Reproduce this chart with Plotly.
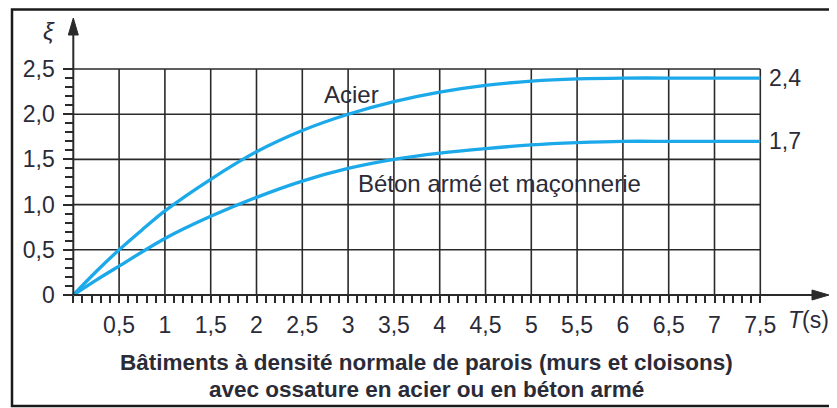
import plotly.graph_objects as go

# ---------------- data ----------------
T_acier = [0, 0.25, 0.5, 0.75, 1, 1.5, 2, 2.5, 3, 3.5, 4, 4.5, 5, 5.5, 6, 6.5, 7, 7.5]
xi_acier = [0, 0.26, 0.50, 0.72, 0.93, 1.28, 1.585, 1.82, 2.00, 2.14, 2.245, 2.32, 2.365, 2.39, 2.40, 2.40, 2.40, 2.40]

T_beton = [0, 0.25, 0.5, 1, 1.5, 2, 2.5, 3, 3.5, 4, 4.5, 5, 5.5, 6, 6.5, 7, 7.5]
xi_beton = [0, 0.165, 0.32, 0.625, 0.87, 1.08, 1.26, 1.40, 1.50, 1.57, 1.62, 1.66, 1.685, 1.70, 1.70, 1.70, 1.70]

x_ticks = [0.5, 1, 1.5, 2, 2.5, 3, 3.5, 4, 4.5, 5, 5.5, 6, 6.5, 7, 7.5]
x_ticklabels = ["0,5", "1", "1,5", "2", "2,5", "3", "3,5", "4", "4,5", "5", "5,5", "6", "6,5", "7", "7,5"]
y_ticks = [0, 0.5, 1.0, 1.5, 2.0, 2.5]
y_ticklabels = ["0", "0,5", "1,0", "1,5", "2,0", "2,5"]
x_minor = [round(i * 0.1, 1) for i in range(0, 76) if i % 5 != 0] + [0]
y_minor = [round(i * 0.1, 1) for i in range(0, 26) if i % 5 != 0]

end_labels = ["2,4", "1,7"]
end_values = [2.4, 1.7]
label_acier = "Acier"
label_beton = "Béton armé et maçonnerie"
caption = ["Bâtiments à densité normale de parois (murs et cloisons)",
           "avec ossature en acier ou en béton armé"]

# ---------------- geometry ----------------
OFF = 8                      # page body margin
W, H = 837 - OFF, 408 - OFF
L, R, TM, B = 12, 2, 2, 55
SX, X0 = 91.6, 73.3 - OFF    # px per unit, pixel of T=0
SY, Y0 = 90.4, 295.0 - OFF   # px per unit, pixel of xi=0
xmin = -(X0 - L) / SX
xmax = xmin + (W - L - R) / SX
ymax = (Y0 - TM) / SY
ymin = -(H - B - Y0) / SY

def pxx(px):
    return (px - OFF - L) / (W - L - R)

def pxy(py):
    return (H - B - (py - OFF)) / (H - TM - B)

def dx(px):
    return (px - OFF - X0) / SX

def dy(py):
    return (Y0 - (py - OFF)) / SY

x_tip = dx(829)
y_tip = dy(18)

DARK = "#2a2a2a"
TXT = "#2b2b38"
BLUE = "#1ba9ea"
FONT = "Liberation Sans, Arial, sans-serif"

fig = go.Figure()

fig.add_trace(go.Scatter(x=T_acier, y=xi_acier, mode="lines", line=dict(color=BLUE, width=3.3, shape="spline", smoothing=0.8),
                         hoverinfo="skip", showlegend=False))
fig.add_trace(go.Scatter(x=T_beton, y=xi_beton, mode="lines", line=dict(color=BLUE, width=3.3, shape="spline", smoothing=0.8),
                         hoverinfo="skip", showlegend=False))

shapes = []
# grid
for xv in x_ticks:
    shapes.append(dict(type="line", xref="x", yref="y", x0=xv, x1=xv, y0=0, y1=max(y_ticks),
                       line=dict(color=DARK, width=1.6), layer="below"))
for yv in y_ticks[1:]:
    shapes.append(dict(type="line", xref="x", yref="y", x0=0, x1=max(x_ticks), y0=yv, y1=yv,
                       line=dict(color=DARK, width=1.6), layer="below"))
# axes
shapes.append(dict(type="line", xref="x", yref="y", x0=0, x1=x_tip - 0.05, y0=0, y1=0, line=dict(color=DARK, width=2)))
shapes.append(dict(type="line", xref="x", yref="y", x0=0, x1=0, y0=0, y1=y_tip - 0.05, line=dict(color=DARK, width=2)))
# arrow heads
shapes.append(dict(type="path", xref="x", yref="y", xsizemode="pixel", ysizemode="pixel",
                   xanchor=x_tip, yanchor=0, path="M0,0 L-17,5 L-17,-5 Z",
                   fillcolor=DARK, line=dict(color=DARK, width=1)))
shapes.append(dict(type="path", xref="x", yref="y", xsizemode="pixel", ysizemode="pixel",
                   xanchor=0, yanchor=y_tip, path="M0,0 L-5,-17 L5,-17 Z",
                   fillcolor=DARK, line=dict(color=DARK, width=1)))
# frame
shapes.append(dict(type="rect", xref="paper", yref="paper", x0=pxx(12), x1=pxx(835), y0=pxy(9.5), y1=pxy(406),
                   line=dict(color="#1a1a1a", width=2.5)))

annotations = []
annotations.append(dict(x=dx(322), y=dy(94), xref="x", yref="y", text=label_acier, showarrow=False,
                        xanchor="left", yanchor="middle", font=dict(size=24, color=TXT, family=FONT)))
annotations.append(dict(x=dx(356), y=dy(183), xref="x", yref="y", text=label_beton, showarrow=False,
                        xanchor="left", yanchor="middle", font=dict(size=24, color=TXT, family=FONT)))
for lab, val in zip(end_labels, end_values):
    annotations.append(dict(x=dx(767), y=val, xref="x", yref="y", text=lab, showarrow=False,
                            xanchor="left", yanchor="middle", font=dict(size=23, color=TXT, family=FONT)))
annotations.append(dict(x=dx(808), y=dy(320), xref="x", yref="y", text="<i>T</i>(s)", showarrow=False,
                        xanchor="center", yanchor="middle", font=dict(size=23, color=TXT, family=FONT)))
annotations.append(dict(x=dx(49), y=dy(31), xref="x", yref="y", text="<i>ξ</i>", showarrow=False,
                        xanchor="center", yanchor="middle", font=dict(size=24, color=TXT, family=FONT)))
for i, line in enumerate(caption):
    annotations.append(dict(x=pxx(426), y=pxy(362 + 27 * i), xref="paper", yref="paper", text="<b>" + line + "</b>",
                            showarrow=False, xanchor="center", yanchor="middle",
                            font=dict(size=22.5, color=TXT, family=FONT)))

fig.update_layout(
    width=W, height=H,
    margin=dict(l=L, r=R, t=TM, b=B, autoexpand=False),
    paper_bgcolor="white", plot_bgcolor="white",
    shapes=shapes, annotations=annotations,
    xaxis=dict(range=[xmin, xmax], showgrid=False, zeroline=False, showline=False,
               anchor="free", position=(0 - ymin) / (ymax - ymin),
               tickmode="array", tickvals=x_ticks, ticktext=x_ticklabels,
               ticks="outside", ticklen=7, tickwidth=1.5, tickcolor=DARK,
               ticklabelstandoff=2,
               tickfont=dict(size=23, color=TXT, family=FONT),
               minor=dict(tickmode="array", tickvals=x_minor, ticks="outside", ticklen=7,
                          tickwidth=1.5, tickcolor=DARK, showgrid=False),
               fixedrange=True),
    yaxis=dict(range=[ymin, ymax], showgrid=False, zeroline=False, showline=False,
               anchor="free", position=(0 - xmin) / (xmax - xmin),
               tickmode="array", tickvals=y_ticks, ticktext=y_ticklabels,
               ticks="outside", ticklen=10, tickwidth=1.5, tickcolor=DARK,
               ticklabelstandoff=4,
               tickfont=dict(size=23, color=TXT, family=FONT),
               minor=dict(tickmode="array", tickvals=y_minor, ticks="outside", ticklen=8,
                          tickwidth=1.5, tickcolor=DARK, showgrid=False),
               fixedrange=True),
)

fig.write_html("out.html")
